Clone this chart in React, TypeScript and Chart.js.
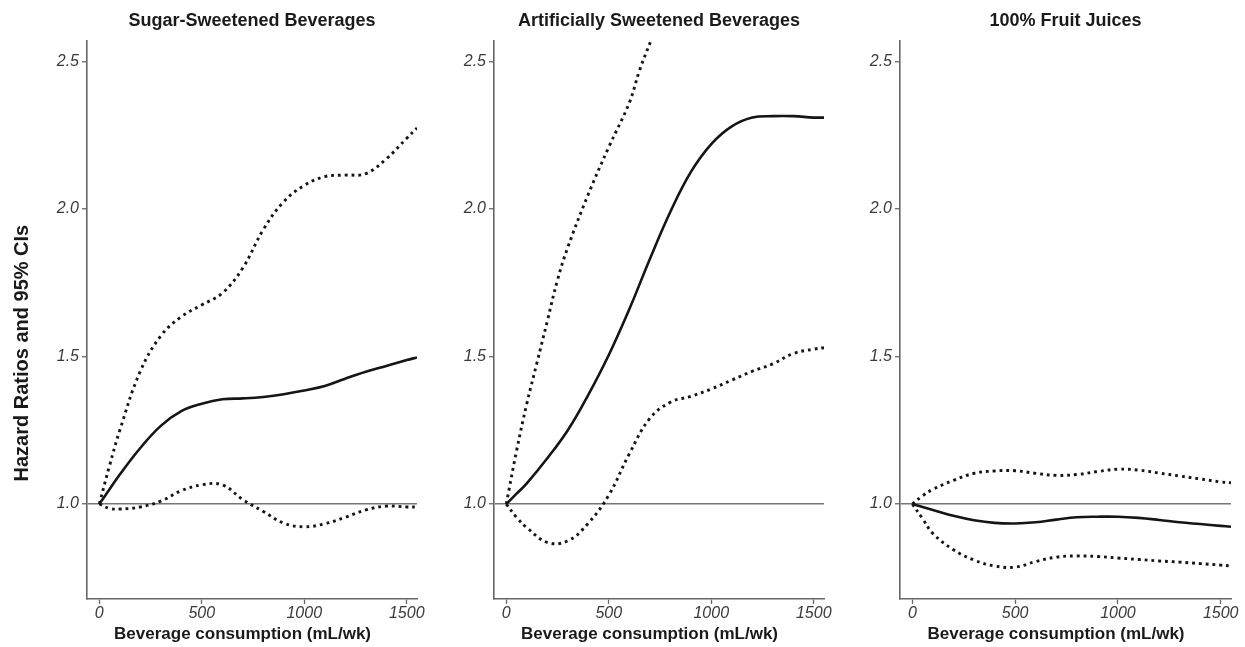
import React, { useEffect, useRef } from "react";
import { Chart, registerables } from "chart.js";

Chart.register(...registerables);

// ---------- data ----------
const PANEL_TITLES = [
  "Sugar-Sweetened Beverages",
  "Artificially Sweetened Beverages",
  "100% Fruit Juices",
];
const X_TITLE = "Beverage consumption (mL/wk)";
const Y_TITLE = "Hazard Ratios and 95% CIs";

const X_TICKS = [0, 500, 1000, 1500];
const Y_TICKS = [1.0, 1.5, 2.0, 2.5];
const REF_HR = 1.0;

// shared consumption grid (mL/wk)
const X_GRID = [0, 50, 100, 200, 300, 400, 500, 600, 700, 800, 900, 1000, 1100, 1200, 1300, 1400, 1500, 1550];

// Sugar-sweetened beverages
const SSB_HR = [1.0, 1.05, 1.1, 1.19, 1.265, 1.315, 1.34, 1.355, 1.358, 1.363, 1.372, 1.385, 1.4, 1.425, 1.448, 1.468, 1.488, 1.497];
const SSB_UPPER = [1.0, 1.13, 1.25, 1.45, 1.57, 1.635, 1.675, 1.715, 1.8, 1.93, 2.025, 2.08, 2.11, 2.115, 2.12, 2.17, 2.24, 2.275];
const SSB_LOWER = [1.0, 0.985, 0.983, 0.99, 1.01, 1.045, 1.065, 1.065, 1.015, 0.975, 0.935, 0.923, 0.933, 0.955, 0.98, 0.993, 0.99, 0.99];

// Artificially sweetened beverages
const ASB_HR = [1.0, 1.035, 1.07, 1.155, 1.25, 1.37, 1.505, 1.66, 1.83, 1.99, 2.125, 2.22, 2.28, 2.31, 2.315, 2.315, 2.31, 2.31];
const ASB_LOWER = [1.0, 0.955, 0.92, 0.87, 0.875, 0.935, 1.03, 1.17, 1.29, 1.345, 1.365, 1.39, 1.42, 1.45, 1.475, 1.51, 1.525, 1.53];
const ASB_UPPER_X = [0, 50, 100, 150, 200, 250, 300, 400, 500, 600, 650, 705];
const ASB_UPPER = [1.0, 1.18, 1.34, 1.48, 1.62, 1.76, 1.87, 2.05, 2.21, 2.36, 2.47, 2.57];

// 100% fruit juices
const FJ_HR = [1.0, 0.99, 0.98, 0.96, 0.945, 0.936, 0.934, 0.938, 0.947, 0.955, 0.957, 0.957, 0.953, 0.946, 0.938, 0.932, 0.926, 0.923];
const FJ_UPPER = [1.0, 1.028, 1.05, 1.08, 1.104, 1.112, 1.113, 1.104, 1.097, 1.1, 1.11, 1.118, 1.115, 1.105, 1.095, 1.085, 1.075, 1.072];
const FJ_LOWER = [1.0, 0.95, 0.9, 0.845, 0.81, 0.79, 0.786, 0.805, 0.82, 0.824, 0.822, 0.817, 0.812, 0.807, 0.803, 0.798, 0.793, 0.79];

const X_MIN = -60;
const X_MAX = 1550;
const Y_MIN = 0.678;
const Y_MAX = 2.571;

// ---------- helpers ----------
const FONT = "'Liberation Sans', Arial, Helvetica, sans-serif";
Chart.defaults.font.family = FONT;

type Series = { xs: number[]; ys: number[]; dotted: boolean };

const pts = (xs: number[], ys: number[]) => xs.map((x, i) => ({ x, y: ys[i] }));

const PANELS: { title: string; series: Series[]; left: number; width: number; padRight: number; yTitle: boolean }[] = [
  {
    title: PANEL_TITLES[0],
    series: [
      { xs: X_GRID, ys: SSB_UPPER, dotted: true },
      { xs: X_GRID, ys: SSB_LOWER, dotted: true },
      { xs: X_GRID, ys: SSB_HR, dotted: false },
    ],
    left: 0,
    width: 437,
    padRight: 20,
    yTitle: true,
  },
  {
    title: PANEL_TITLES[1],
    series: [
      { xs: ASB_UPPER_X, ys: ASB_UPPER, dotted: true },
      { xs: X_GRID, ys: ASB_LOWER, dotted: true },
      { xs: X_GRID, ys: ASB_HR, dotted: false },
    ],
    left: 407,
    width: 437,
    padRight: 20,
    yTitle: false,
  },
  {
    title: PANEL_TITLES[2],
    series: [
      { xs: X_GRID, ys: FJ_UPPER, dotted: true },
      { xs: X_GRID, ys: FJ_LOWER, dotted: true },
      { xs: X_GRID, ys: FJ_HR, dotted: false },
    ],
    left: 813,
    width: 432,
    padRight: 14,
    yTitle: false,
  },
];

const H = 647;
const AXIS_COLOR = "#666666";
const TICK_TEXT = "#3a3a3a";

function Panel({ p }: { p: (typeof PANELS)[number] }) {
  const ref = useRef<HTMLCanvasElement | null>(null);
  useEffect(() => {
    if (!ref.current) return;
    const chart = new Chart(ref.current, {
      type: "line",
      data: {
        datasets: p.series.map((s) => ({
          data: pts(s.xs, s.ys),
          borderColor: "#151515",
          borderWidth: s.dotted ? 2.9 : 2.6,
          borderDash: s.dotted ? [2.8, 4.0] : [],
          pointRadius: 0,
          tension: 0.4,
          fill: false,
        })),
      },
      options: {
        animation: false,
        responsive: false,
        events: [],
        layout: { padding: { left: 0, right: p.padRight, top: 0, bottom: 0 } },
        plugins: {
          legend: { display: false },
          tooltip: { enabled: false },
          title: {
            display: true,
            text: p.title,
            fullSize: false,
            color: "#1a1a1a",
            font: { family: FONT, size: 18, weight: "bold" },
            padding: { top: 10, bottom: 9 },
          },
        },
        scales: {
          x: {
            type: "linear",
            min: X_MIN,
            max: X_MAX,
            afterBuildTicks: (s: any) => {
              s.ticks = X_TICKS.map((v) => ({ value: v }));
            },
            afterFit: (s: any) => {
              s.height = 48;
            },
            ticks: {
              color: TICK_TEXT,
              font: { family: FONT, size: 16, style: "italic" },
              padding: 0,
              maxRotation: 0,
              autoSkip: false,
              callback: (v: any) => String(v),
            },
            grid: {
              display: true,
              drawOnChartArea: false,
              drawTicks: true,
              tickLength: 5,
              tickColor: AXIS_COLOR,
              tickWidth: 1.3,
            },
            border: { display: true, color: AXIS_COLOR, width: 1.6 },
            title: {
              display: true,
              // trailing spaces nudge the centred title slightly left, as in the original
              text: X_TITLE + "    ",
              color: "#1a1a1a",
              font: { family: FONT, size: 17, weight: "bold" },
              padding: { top: 0, bottom: 2 },
            },
          },
          y: {
            type: "linear",
            min: Y_MIN,
            max: Y_MAX,
            afterBuildTicks: (s: any) => {
              s.ticks = Y_TICKS.map((v) => ({ value: v }));
            },
            afterFit: (s: any) => {
              s.width = 87;
            },
            ticks: {
              color: TICK_TEXT,
              font: { family: FONT, size: 16, style: "italic" },
              padding: 3,
              autoSkip: false,
              callback: (v: any) => Number(v).toFixed(1),
            },
            grid: {
              display: true,
              drawOnChartArea: true,
              drawTicks: true,
              tickLength: 5,
              tickColor: AXIS_COLOR,
              tickWidth: 1.3,
              color: (ctx: any) => (ctx.tick && Math.abs(ctx.tick.value - REF_HR) < 1e-9 ? "#777777" : "rgba(0,0,0,0)"),
              lineWidth: 1.5,
            },
            border: { display: true, color: AXIS_COLOR, width: 1.6 },
            title: {
              display: p.yTitle,
              // trailing spaces move the centred (rotated) title down, as in the original
              text: Y_TITLE + "            ",
              color: "#1a1a1a",
              font: { family: FONT, size: 20, weight: "bold" },
              padding: { top: 10, bottom: 0 },
            },
          },
        },
      },
    } as any);
    return () => chart.destroy();
  }, [p]);
  return (
    <canvas
      ref={ref}
      width={p.width}
      height={H}
      style={{ position: "absolute", left: p.left, top: 0, width: p.width, height: H }}
    />
  );
}

export default function App() {
  return (
    <div
      style={{
        position: "fixed",
        left: 0,
        top: 0,
        width: 1245,
        height: H,
        background: "#ffffff",
        overflow: "hidden",
      }}
    >
      {PANELS.map((p, i) => (
        <Panel key={i} p={p} />
      ))}
    </div>
  );
}
